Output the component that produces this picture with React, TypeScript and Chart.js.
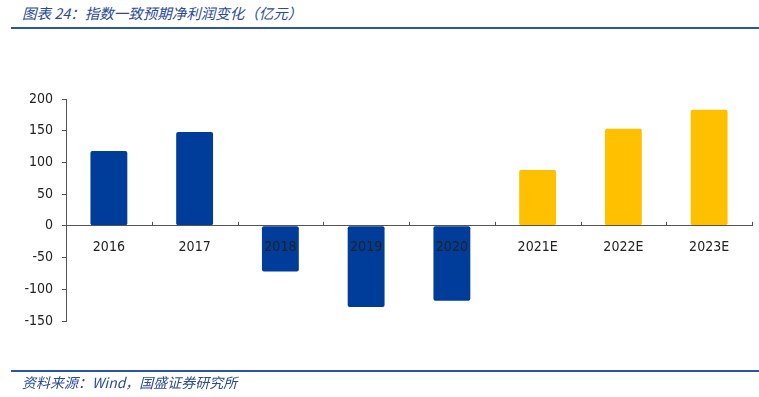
import React, { useEffect, useRef } from "react";
import { Chart, registerables } from "chart.js";

Chart.register(...registerables);

const titleText = "图表 24：指数一致预期净利润变化（亿元）";
const sourceText = "资料来源：Wind，国盛证券研究所";
const categories = ["2016", "2017", "2018", "2019", "2020", "2021E", "2022E", "2023E"];
const profitChange = [118, 148, -72, -128, -118, 88, 153, 183];
const barColors = ["#003C99", "#003C99", "#003C99", "#003C99", "#003C99", "#FFC000", "#FFC000", "#FFC000"];
const yMin = -150;
const yMax = 200;
const yStep = 50;

const tickFont = { family: "'DejaVu Sans Condensed', 'DejaVu Sans', sans-serif", size: 14 };

const xTickPlugin = {
  id: "xTickMarks",
  afterDatasetsDraw(chart: any) {
    const x = chart.scales.x;
    const y = chart.scales.y;
    const y0 = y.getPixelForValue(0);
    const ctx = chart.ctx;
    const n = categories.length;
    const xs: number[] = [x.left];
    for (let i = 1; i < n; i++) {
      xs.push((x.getPixelForValue(i - 1) + x.getPixelForValue(i)) / 2);
    }
    xs.push(x.right);
    ctx.save();
    ctx.strokeStyle = "#555";
    ctx.lineWidth = 1;
    xs.forEach((px) => {
      const p = Math.round(px) + 0.5;
      ctx.beginPath();
      ctx.moveTo(p, y0 - 4);
      ctx.lineTo(p, y0);
      ctx.stroke();
    });
    ctx.restore();
  },
};

export default function App() {
  const ref = useRef<HTMLCanvasElement>(null);
  useEffect(() => {
    if (!ref.current) return;
    const chart = new Chart(ref.current, {
      type: "bar",
      data: {
        labels: categories,
        datasets: [
          {
            data: profitChange,
            backgroundColor: barColors,
            borderRadius: 2,
            borderSkipped: false,
            barPercentage: 0.43,
            categoryPercentage: 1,
          },
        ],
      },
      options: {
        animation: false,
        responsive: false,
        layout: { padding: { left: 0, right: 7, top: 99, bottom: 76 } },
        plugins: { legend: { display: false }, tooltip: { enabled: false } },
        scales: {
          x: {
            position: { y: 0 },
            grid: { display: false, drawTicks: false, z: 1 },
            border: { display: true, color: "#555", width: 1, z: 1 },
            ticks: {
              z: 1,
              padding: 13,
              color: "#222",
              font: tickFont,
              maxRotation: 0,
            },
          },
          y: {
            min: yMin,
            max: yMax,
            afterFit(scale: any) {
              scale.width = 66;
            },
            grid: { drawOnChartArea: false, drawTicks: true, tickLength: 4, color: "#555" },
            border: { display: true, color: "#555", width: 1 },
            ticks: {
              stepSize: yStep,
              padding: 9,
              color: "#222",
              font: tickFont,
            },
          },
        },
      },
      plugins: [xTickPlugin],
    });
    return () => chart.destroy();
  }, []);

  return (
    <div style={{ position: "fixed", left: 0, top: 0, width: 759, height: 397, background: "#fff", overflow: "hidden" }}>
      <div
        style={{
          position: "absolute",
          left: 22,
          top: 3,
          fontFamily: "'Noto Sans CJK SC', sans-serif",
          fontStyle: "italic",
          fontSize: 14.5,
          color: "#2A4B9B",
          lineHeight: "20px",
          whiteSpace: "nowrap",
        }}
      >
        {titleText}
      </div>
      <div style={{ position: "absolute", left: 11, right: 0, top: 27, height: 2, background: "#2A56A8" }} />
      <canvas ref={ref} width={759} height={397} style={{ position: "absolute", left: 0, top: 0 }} />
      <div style={{ position: "absolute", left: 11, right: 0, top: 370, height: 2, background: "#2A56A8" }} />
      <div
        style={{
          position: "absolute",
          left: 22,
          top: 372,
          fontFamily: "'Noto Sans CJK SC', sans-serif",
          fontStyle: "italic",
          fontSize: 14,
          color: "#2A4B9B",
          lineHeight: "20px",
          whiteSpace: "nowrap",
        }}
      >
        {sourceText}
      </div>
    </div>
  );
}
